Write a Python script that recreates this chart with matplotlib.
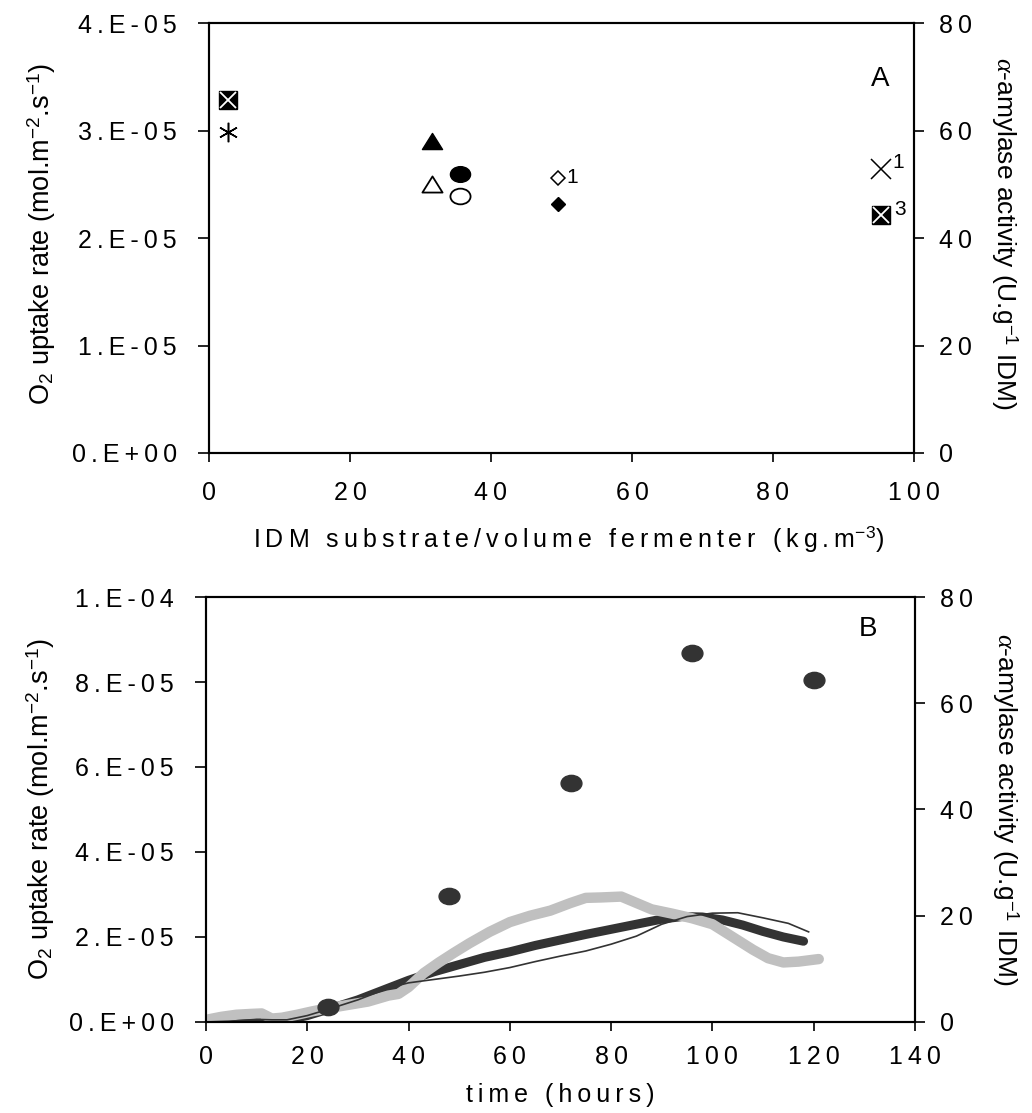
#!/usr/bin/env python
"""Two-panel O2 uptake / alpha-amylase figure (A: vs substrate load, B: vs time)."""

import matplotlib

matplotlib.use("Agg")
import matplotlib.pyplot as plt
import numpy as np
from matplotlib.path import Path

plt.rcParams["font.family"] = ["Liberation Sans", "DejaVu Sans"]
plt.rcParams["mathtext.fontset"] = "custom"
plt.rcParams["mathtext.rm"] = "Liberation Sans"
plt.rcParams["mathtext.it"] = "Liberation Serif:italic"

THIN = "\u2009"

# ---- panel A: points at x = IDM substrate/volume (kg.m-3), y = O2 uptake rate
crossed_x = [2.7, 95.3]
crossed_y = [3.28e-5, 2.21e-5]
asterisk_x = [2.7]
asterisk_y = [2.99e-5]
tri_filled_x, tri_filled_y = [31.7], [2.90e-5]
tri_open_x, tri_open_y = [31.7], [2.50e-5]
circ_filled_x, circ_filled_y = [35.6], [2.60e-5]
circ_open_x, circ_open_y = [35.6], [2.39e-5]
dia_open_x, dia_open_y = [49.5], [2.56e-5]
dia_filled_x, dia_filled_y = [49.5], [2.32e-5]
cross_x, cross_y = [95.3], [2.64e-5]

a_yticks = [0, 1e-5, 2e-5, 3e-5, 4e-5]
a_ylabels = ["0.E+00", "1.E-05", "2.E-05", "3.E-05", "4.E-05"]
a_xticks = [0, 20, 40, 60, 80, 100]
amy_ticks = [0, 20, 40, 60, 80]

# ---- panel B: O2 uptake curves (units of 1e-5) and amylase activity points
t_thick = [0, 5, 10, 13, 16, 20, 25, 30, 35, 40, 45, 50, 55, 60, 65, 70, 75,
           80, 85, 90, 94, 98, 102, 106, 110, 114, 118]
o2_thick = [0.0, 0.02, 0.06, 0.05, 0.05, 0.15, 0.33, 0.52, 0.75, 0.98, 1.18,
            1.35, 1.52, 1.65, 1.8, 1.93, 2.06, 2.18, 2.3, 2.42, 2.48, 2.47,
            2.4, 2.28, 2.13, 2.0, 1.9]

t_thin = [0, 5, 10, 13, 16, 20, 25, 30, 35, 38, 40, 45, 50, 55, 60, 65, 70,
          75, 80, 85, 90, 95, 100, 105, 110, 115, 119]
o2_thin = [0.0, 0.02, 0.06, 0.05, 0.05, 0.15, 0.33, 0.52, 0.75, 0.86, 0.92,
           1.0, 1.08, 1.17, 1.28, 1.42, 1.55, 1.67, 1.83, 2.02, 2.3, 2.48,
           2.56, 2.57, 2.45, 2.32, 2.12]

t_grey = [0, 3, 6, 9, 11, 13, 15, 18, 21, 24, 28, 32, 36, 38, 40, 43, 46, 49,
          52, 56, 60, 64, 68, 72, 75, 78, 82, 85, 88, 92, 96, 100, 104, 108,
          111, 114, 117, 121]
o2_grey = [0.05, 0.12, 0.17, 0.19, 0.2, 0.08, 0.1, 0.17, 0.25, 0.32, 0.4, 0.48,
           0.62, 0.66, 0.82, 1.15, 1.4, 1.63, 1.85, 2.12, 2.35, 2.5, 2.62, 2.8,
           2.92, 2.93, 2.95, 2.8, 2.65, 2.55, 2.44, 2.3, 2.0, 1.7, 1.5, 1.4,
           1.42, 1.48]

t_amy = [24, 48, 72, 96, 120]
amylase = [2.8, 23.7, 44.9, 69.5, 64.4]

b_yticks = [0, 2e-5, 4e-5, 6e-5, 8e-5, 1e-4]
b_ylabels = ["0.E+00", "2.E-05", "4.E-05", "6.E-05", "8.E-05", "1.E-04"]
b_xticks = [0, 20, 40, 60, 80, 100, 120, 140]


def spaced(text):
    return THIN.join(text)


def ellipse_marker(ratio=0.78):
    c = Path.unit_circle()
    return Path(c.vertices * np.array([1.0, ratio]), c.codes)


FLAT_TRI = Path([(0, 0.8), (-1, -0.8), (1, -0.8), (0, 0.8)],
                [Path.MOVETO, Path.LINETO, Path.LINETO, Path.CLOSEPOLY])
ELLIPSE = ellipse_marker()
DARK = "#333333"


def style_axes(ax, ax2, xticks, yticks, ylabels, xpad):
    for a in (ax, ax2):
        for sp in a.spines.values():
            sp.set_linewidth(1.5)
    ax.set_xticks(xticks)
    ax.set_xticklabels([spaced(str(v)) for v in xticks])
    ax.set_yticks(yticks)
    ax.set_yticklabels([spaced(s) for s in ylabels])
    ax.tick_params(axis="y", direction="out", length=8, width=1.2, pad=15,
                   labelsize=18)
    ax.tick_params(axis="x", direction="out", length=6.5, width=1.2, pad=xpad,
                   labelsize=18)
    ax2.set_yticks(amy_ticks)
    ax2.set_yticklabels([spaced(str(v)) for v in amy_ticks])
    ax2.tick_params(axis="y", direction="out", length=7, width=1.2, pad=11,
                    labelsize=18)
    ax2.set_ylim(0, 80)


fig = plt.figure(figsize=(10.32, 11.13), dpi=100)

# ---------------- panel A
axA = fig.add_axes([0.2025, 0.5930, 0.6831, 0.3863])
axA2 = axA.twinx()
axA.set_xlim(0, 100)
axA.set_ylim(0, 4e-5)
style_axes(axA, axA2, a_xticks, a_yticks, a_ylabels, xpad=14)

axA.plot(crossed_x, crossed_y, ls="none", marker="s", ms=13.5, color="black")
axA.plot(crossed_x, crossed_y, ls="none", marker="x", ms=12, mew=1.3,
         color="white")
axA.plot(asterisk_x, asterisk_y, ls="none", marker=(6, 2, 0), ms=14, mew=1.1,
         color="black")
axA.plot(tri_filled_x, tri_filled_y, ls="none", marker=FLAT_TRI, ms=14.5,
         color="black")
axA.plot(tri_open_x, tri_open_y, ls="none", marker=FLAT_TRI, ms=14.5,
         mfc="white", mec="black", mew=1.3)
axA.plot(circ_filled_x, circ_filled_y, ls="none", marker=ELLIPSE, ms=14.5,
         color="black")
axA.plot(circ_open_x, circ_open_y, ls="none", marker=ELLIPSE, ms=14.5,
         mfc="white", mec="black", mew=1.3)
axA.plot(dia_open_x, dia_open_y, ls="none", marker="D", ms=7.5, mfc="white",
         mec="black", mew=1.1)
axA.plot(dia_filled_x, dia_filled_y, ls="none", marker="D", ms=7.5,
         color="black")
axA.plot(cross_x, cross_y, ls="none", marker="x", ms=14, mew=1.1,
         color="black")

axA.annotate("1", (dia_open_x[0], dia_open_y[0]), xytext=(6, 0),
             textcoords="offset points", ha="left", va="center", fontsize=15)
axA.annotate("1", (cross_x[0], cross_y[0]), xytext=(8, 5),
             textcoords="offset points", ha="left", va="center", fontsize=15)
axA.annotate("3", (crossed_x[1], crossed_y[1]), xytext=(10, 4),
             textcoords="offset points", ha="left", va="center", fontsize=15)
axA.text(0.952, 0.87, "A", transform=axA.transAxes, ha="center",
         va="center", fontsize=20)

axA.set_ylabel(r"O$_2$ uptake rate (mol.m$^{-2}$.s$^{-1}$)", fontsize=19.5,
               va="center")
axA.yaxis.set_label_coords(-0.237, 0.51)
axA2.set_ylabel(r"$\alpha$-amylase activity (U.g$^{-1}$ IDM)", fontsize=19,
                rotation=270, va="center")
axA2.yaxis.set_label_coords(1.129, 0.51)
axA.set_xlabel(spaced("IDM substrate/volume fermenter (kg.m") + r"$^{-3}$)",
               fontsize=18)
axA.xaxis.set_label_coords(0.51, -0.165)

# ---------------- panel B
axB = fig.add_axes([0.1996, 0.0818, 0.6870, 0.3818])
axB2 = axB.twinx()
axB.set_xlim(0, 140)
axB.set_ylim(0, 1e-4)
style_axes(axB, axB2, b_xticks, b_yticks, b_ylabels, xpad=10)

scale = 1e-5
axB.plot(t_thick, np.array(o2_thick) * scale, color=DARK, lw=6.5,
         solid_capstyle="round", solid_joinstyle="round", zorder=2)
axB.plot(t_grey, np.array(o2_grey) * scale, color="#c0c0c0", lw=7.5,
         solid_capstyle="round", solid_joinstyle="round", zorder=3)
axB.plot(t_thin, np.array(o2_thin) * scale, color=DARK, lw=1.2, zorder=4)
axB2.plot(t_amy, amylase, ls="none", marker=ELLIPSE, ms=15, color=DARK)

axB.text(0.934, 0.925, "B", transform=axB.transAxes, ha="center",
         va="center", fontsize=20)

axB.set_ylabel(r"O$_2$ uptake rate (mol.m$^{-2}$.s$^{-1}$)", fontsize=19.5,
               va="center")
axB.yaxis.set_label_coords(-0.233, 0.5)
axB2.set_ylabel(r"$\alpha$-amylase activity (U.g$^{-1}$ IDM)", fontsize=19,
                rotation=270, va="center")
axB2.yaxis.set_label_coords(1.127, 0.5)
axB.set_xlabel(spaced("time (hours)"), fontsize=18)
axB.xaxis.set_label_coords(0.5, -0.1435)

fig.savefig("out.png", dpi=100)
